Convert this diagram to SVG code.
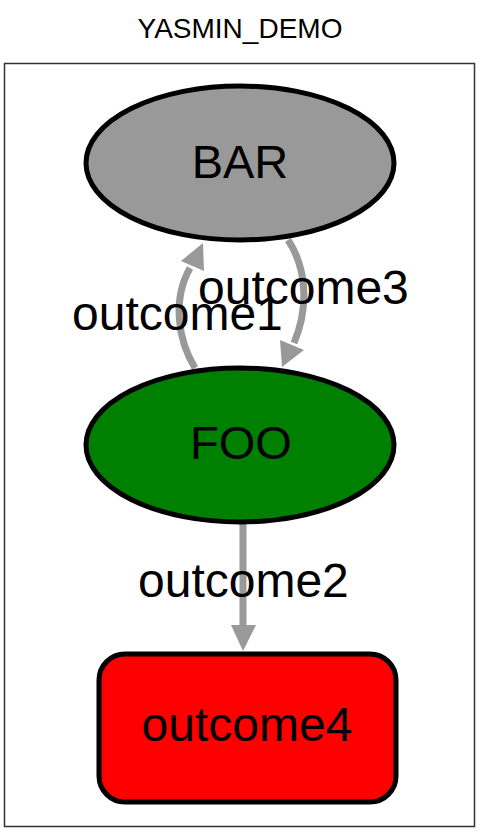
<svg xmlns="http://www.w3.org/2000/svg" width="480" height="835" viewBox="0 0 480 835">
<style>
.t{font-family:"Liberation Sans",Arial,sans-serif;fill:#000;text-anchor:middle}
.node{stroke:#000;stroke-width:5}
.edge{fill:none;stroke:#999;stroke-width:7}
.head{fill:#999;stroke:none}
.lbl{font-family:"Liberation Sans",Arial,sans-serif;font-size:48px;fill:#000}
</style>
<rect width="480" height="835" fill="#fff"/>
<text class="t" x="240" y="38" font-size="28">YASMIN_DEMO</text>
<rect x="4.5" y="63.5" width="470" height="763" fill="#fff" stroke="#333" stroke-width="1.5"/>
<g id="connectors">
  <g id="e-outcome1">
    <path class="edge" d="M195,368 C178,340 172,300 190,268"/>
    <polygon class="head" points="203,243 181,261 204,271"/>
    <text class="lbl" x="72" y="330">outcome1</text>
  </g>
  <g id="e-outcome3">
    <path class="edge" d="M288,240 C308,270 308,310 294,343"/>
    <polygon class="head" points="282,367 280,340 304,350"/>
    <text class="lbl" x="198" y="304">outcome3</text>
  </g>
  <g id="e-outcome2">
    <path class="edge" d="M243,523 L243,628"/>
    <polygon class="head" points="231,625 256,625 243,651"/>
    <text class="lbl" x="138" y="597">outcome2</text>
  </g>
</g>
<g id="BAR">
  <ellipse class="node" cx="240" cy="163" rx="154" ry="77" fill="#999"/>
  <text class="t" x="240" y="178" font-size="47">BAR</text>
</g>
<g id="FOO">
  <ellipse class="node" cx="240" cy="445" rx="154" ry="77" fill="#008000"/>
  <text class="t" x="241" y="459" font-size="47">FOO</text>
</g>
<g id="outcome4">
  <rect class="node" x="99" y="654" width="297" height="148" rx="26" fill="#f00"/>
  <text class="t" x="247" y="741" font-size="48">outcome4</text>
</g>
</svg>
